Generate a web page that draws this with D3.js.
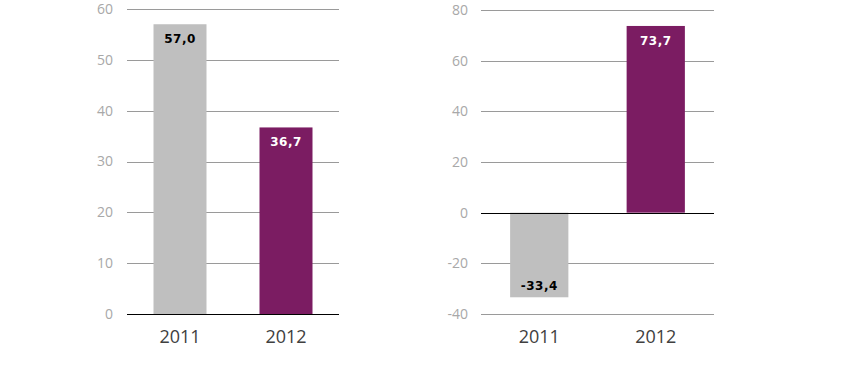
<!DOCTYPE html>
<html><head><meta charset="utf-8">
<script src="https://cdn.jsdelivr.net/npm/d3@7"></script>
<style>body{margin:0;background:#fff}svg{display:block}</style>
</head><body>
<svg id="c" width="854" height="389"></svg>
<script>
const categories = ["2011", "2012"];
const leftValues = [57.0, 36.7];
const rightValues = [-33.4, 73.7];
const leftTicks = [0, 10, 20, 30, 40, 50, 60];
const rightTicks = [-40, -20, 0, 20, 40, 60, 80];
const barColors = ["#bfbfbf", "#7b1c62"];
const labelColors = ["#000000", "#ffffff"];

const svg = d3.select("#c");
const fmt = v => d3.format(".1f")(v).replace(".", ",").replace("−", "-");

function panel(opts) {
  const {x0, x1, yTop, yBot, domain, ticks, values, labelX} = opts;
  const g = svg.append("g");
  const x = d3.scaleBand().domain(categories).range([x0, x1]).paddingInner(0.5).paddingOuter(0.25);
  const y = d3.scaleLinear().domain(domain).range([yBot, yTop]);
  // gridlines
  g.selectAll("line.grid").data(ticks.filter(t => t !== 0)).join("line")
    .attr("x1", x0).attr("x2", x1)
    .attr("y1", d => Math.round(y(d)) + 0.5).attr("y2", d => Math.round(y(d)) + 0.5)
    .attr("stroke", "#9a9a9a").attr("stroke-width", 1);
  // tick labels
  g.selectAll("text.tick").data(ticks).join("text")
    .attr("x", labelX).attr("y", d => y(d)).attr("dy", "0.35em")
    .attr("text-anchor", "end")
    .attr("font-family", "'Open Sans', sans-serif").attr("font-size", 14)
    .attr("fill", "#a8a8a8").text(d => d);
  // bars
  g.selectAll("rect").data(values).join("rect")
    .attr("x", (d, i) => x(categories[i]))
    .attr("width", x.bandwidth())
    .attr("y", d => y(Math.max(0, d)))
    .attr("height", d => Math.abs(y(d) - y(0)))
    .attr("fill", (d, i) => barColors[i]);
  // zero line
  g.append("line").attr("x1", x0).attr("x2", x1)
    .attr("y1", Math.round(y(0)) + 0.5).attr("y2", Math.round(y(0)) + 0.5)
    .attr("stroke", "#000").attr("stroke-width", 1);
  // value labels
  g.selectAll("text.val").data(values).join("text")
    .attr("x", (d, i) => x(categories[i]) + x.bandwidth() / 2)
    .attr("y", d => d >= 0 ? y(d) + 19 : y(d) - 7)
    .attr("text-anchor", "middle")
    .attr("font-family", "'DejaVu Sans', Verdana, sans-serif").attr("font-weight", "bold")
    .attr("font-size", 12).attr("letter-spacing", 0.5)
    .attr("fill", (d, i) => labelColors[i]).text(d => fmt(d));
  // category labels
  g.selectAll("text.cat").data(categories).join("text")
    .attr("x", d => x(d) + x.bandwidth() / 2).attr("y", 343)
    .attr("text-anchor", "middle")
    .attr("font-family", "'Open Sans', sans-serif").attr("font-size", 18)
    .attr("fill", "#404040").text(d => d);
}

panel({x0: 127, x1: 339, yTop: 9, yBot: 314, domain: [0, 60], ticks: leftTicks, values: leftValues, labelX: 113});
panel({x0: 481, x1: 714, yTop: 10, yBot: 314, domain: [-40, 80], ticks: rightTicks, values: rightValues, labelX: 468});
</script>
</body></html>
